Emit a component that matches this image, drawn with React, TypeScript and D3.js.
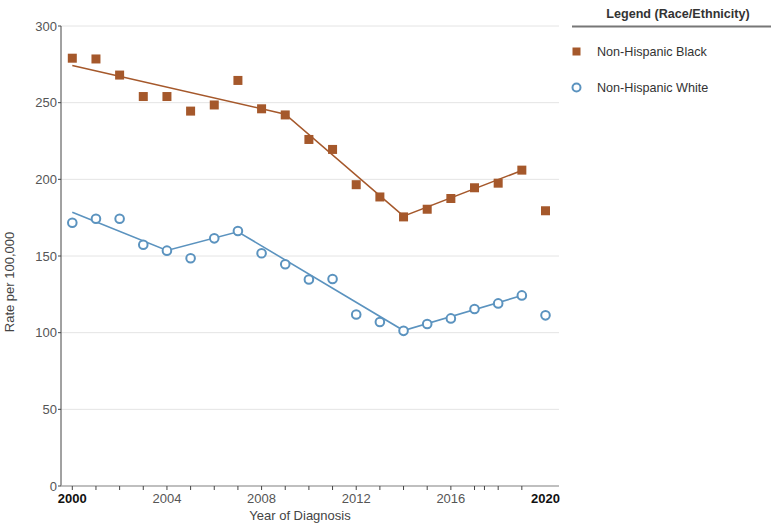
import React from "react";
import * as d3 from "d3";

const years = [2000, 2001, 2002, 2003, 2004, 2005, 2006, 2007, 2008, 2009, 2010, 2011, 2012, 2013, 2014, 2015, 2016, 2017, 2018, 2019, 2020];
const blackRates = [279, 278.5, 268, 254, 254, 244.5, 248.5, 264.5, 246, 242, 226, 219.5, 196.5, 188.5, 175.5, 180.5, 187.5, 194.5, 197.5, 206, 179.5];
const whiteRates = [171.7, 174.3, 174.3, 157.3, 153.5, 148.5, 161.5, 166.3, 151.8, 144.6, 134.7, 135, 111.8, 107, 101.2, 105.7, 109.3, 115.4, 119.1, 124.3, 111.3];
const blackTrendYears = [2000, 2009, 2014, 2019];
const blackTrendRates = [274.2, 242.5, 176, 205.8];
const whiteTrendYears = [2000, 2004, 2007, 2014, 2019];
const whiteTrendRates = [178.6, 153.6, 165.8, 101.4, 124.2];
const yTicks = [0, 50, 100, 150, 200, 250, 300];
const xLabelTicks = [2000, 2004, 2008, 2012, 2016, 2020];
const xMinorTicks = [2000, 2001, 2002, 2003, 2004, 2005, 2006, 2007, 2008, 2009, 2010, 2011, 2012, 2013, 2014, 2015, 2016, 2017, 2017.42, 2018, 2019];
const seriesNames = ["Non-Hispanic Black", "Non-Hispanic White"];

const BROWN = "#a5582b";
const BLUE = "#5b93bf";
const FONT = "'Liberation Sans', Arial, sans-serif";

export default function App() {
  const x = d3.scaleLinear().domain([2000, 2020]).range([72.3, 545.5]);
  const y = d3.scaleLinear().domain([0, 300]).range([486, 26]);
  const line = d3
    .line<[number, number]>()
    .x((d) => x(d[0]))
    .y((d) => y(d[1]));
  const blackTrend = blackTrendYears.map((yr, i) => [yr, blackTrendRates[i]] as [number, number]);
  const whiteTrend = whiteTrendYears.map((yr, i) => [yr, whiteTrendRates[i]] as [number, number]);
  const plotLeft = 61;
  const plotRight = 559;

  return (
    <svg
      width={771}
      height={527}
      style={{ position: "absolute", left: 0, top: 0, background: "#fff" }}
      fontFamily={FONT}
    >
      {/* gridlines */}
      {yTicks.slice(1).map((t) => (
        <line key={"g" + t} x1={plotLeft} x2={plotRight} y1={y(t)} y2={y(t)} stroke="#e4e4e4" strokeWidth={1} />
      ))}
      {/* y axis */}
      <line x1={plotLeft} x2={plotLeft} y1={y(300)} y2={y(0)} stroke="#444" strokeWidth={1} />
      {yTicks.map((t) => (
        <g key={"yt" + t}>
          <line x1={plotLeft - 3} x2={plotLeft} y1={y(t)} y2={y(t)} stroke="#444" />
          <text x={plotLeft - 4} y={y(t)} dy="0.35em" textAnchor="end" fontSize={13} fill="#555">
            {t}
          </text>
        </g>
      ))}
      {/* x axis */}
      <line x1={plotLeft} x2={plotRight} y1={y(0)} y2={y(0)} stroke="#aaa" strokeWidth={1.5} />
      {xMinorTicks.map((t) => (
        <line key={"xt" + t} x1={x(t)} x2={x(t)} y1={y(0)} y2={y(0) + 4} stroke="#444" />
      ))}
      {xLabelTicks.map((t, i) => (
        <text
          key={"xl" + t}
          x={x(t)}
          y={y(0) + 17}
          textAnchor="middle"
          fontSize={13}
          fill={i === 0 || i === xLabelTicks.length - 1 ? "#111" : "#555"}
          fontWeight={i === 0 || i === xLabelTicks.length - 1 ? "bold" : "normal"}
        >
          {t}
        </text>
      ))}
      <text x={300} y={520} textAnchor="middle" fontSize={13} fill="#444">
        Year of Diagnosis
      </text>
      <text transform="translate(14,282) rotate(-90)" textAnchor="middle" fontSize={13} fill="#444">
        Rate per 100,000
      </text>

      {/* trend lines */}
      <path d={line(blackTrend) || ""} fill="none" stroke={BROWN} strokeWidth={1.6} />
      <path d={line(whiteTrend) || ""} fill="none" stroke={BLUE} strokeWidth={1.6} />

      {/* points */}
      {years.map((yr, i) => (
        <rect
          key={"b" + yr}
          x={x(yr) - 4.5}
          y={y(blackRates[i]) - 4.5}
          width={9}
          height={9}
          fill={BROWN}
        />
      ))}
      {years.map((yr, i) => (
        <circle
          key={"w" + yr}
          cx={x(yr)}
          cy={y(whiteRates[i])}
          r={4.3}
          fill="#fff"
          stroke={BLUE}
          strokeWidth={2}
        />
      ))}

      {/* legend */}
      <text x={678} y={18} textAnchor="middle" fontSize={12.6} fontWeight="bold" fill="#333">
        Legend (Race/Ethnicity)
      </text>
      <line x1={572} x2={771} y1={26.5} y2={26.5} stroke="#777" strokeWidth={2} />
      <rect x={572.5} y={47.5} width={8} height={8} fill={BROWN} />
      <text x={597} y={52} dy="0.35em" fontSize={12.6} fill="#333">
        {seriesNames[0]}
      </text>
      <circle cx={576.5} cy={87.5} r={4} fill="#fff" stroke={BLUE} strokeWidth={2} />
      <text x={597} y={88} dy="0.35em" fontSize={12.6} fill="#333">
        {seriesNames[1]}
      </text>
    </svg>
  );
}
